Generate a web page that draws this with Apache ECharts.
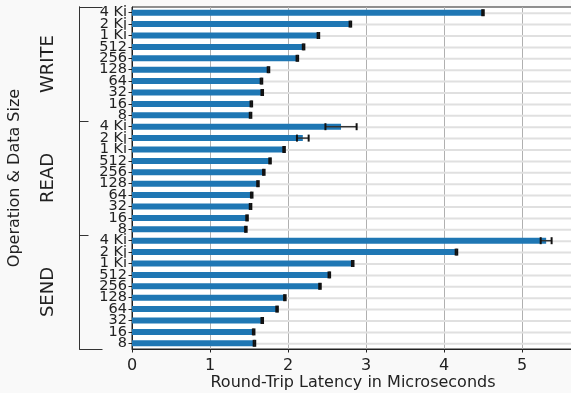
<!DOCTYPE html>
<html>
<head>
<meta charset="utf-8">
<script src="https://cdn.jsdelivr.net/npm/echarts@6/dist/echarts.min.js"></script>
<style>
  html, body { margin: 0; padding: 0; background: #f9f9f9; }
  #chart { width: 571px; height: 393px; }
</style>
</head>
<body>
<div id="chart"></div>
<script>
// Operations (groups, top to bottom) and message sizes within each group
const operations = ['WRITE', 'READ', 'SEND'];
const sizeLabels = ['4 Ki', '2 Ki', '1 Ki', '512', '256', '128', '64', '32', '16', '8'];

// Mean round-trip latency (µs) and error half-width, per size
const writeMean = [4.50, 2.80, 2.39, 2.20, 2.12, 1.75, 1.66, 1.67, 1.53, 1.52];
const writeErr  = [0.01, 0.01, 0.01, 0.01, 0.01, 0.01, 0.01, 0.01, 0.01, 0.01];
const readMean  = [2.68, 2.19, 1.95, 1.77, 1.69, 1.615, 1.535, 1.52, 1.475, 1.46];
const readErr   = [0.20, 0.075, 0.01, 0.01, 0.01, 0.01, 0.01, 0.01, 0.01, 0.01];
const sendMean  = [5.31, 4.16, 2.83, 2.53, 2.41, 1.96, 1.86, 1.67, 1.56, 1.57];
const sendErr   = [0.07, 0.01, 0.01, 0.01, 0.01, 0.01, 0.01, 0.01, 0.01, 0.01];

// X axis tick step and visible extent
const xTickStep = 1;
const xMin = 0;
const xMax = 5.667;

const FONT = 'DejaVu Sans';
const TEXT = '#222';

const groups = [
  { name: operations[0], mean: writeMean, err: writeErr },
  { name: operations[1], mean: readMean, err: readErr },
  { name: operations[2], mean: sendMean, err: sendErr }
];

// Flatten into one category list (unique keys "OP|size")
const categories = [];
const means = [];
const errorData = [];
const rowData = [];
groups.forEach(g => {
  sizeLabels.forEach((s, i) => {
    const idx = categories.length;
    categories.push(g.name + '|' + s);
    means.push(g.mean[i]);
    errorData.push([idx, g.mean[i] - g.err[i], g.mean[i] + g.err[i]]);
    rowData.push([xMin, idx]);
  });
});

const chart = echarts.init(document.getElementById('chart'));

// Light horizontal guide across each row
function renderRowLine(params, api) {
  const p = api.coord([api.value(0), api.value(1)]);
  const cs = params.coordSys;
  return {
    type: 'line',
    shape: { x1: cs.x, y1: p[1] + 0.5, x2: cs.x + cs.width, y2: p[1] + 0.5 },
    style: { stroke: '#e0e0e0', lineWidth: 2 }
  };
}

// Horizontal error bar with end caps
function renderErrorBar(params, api) {
  const i = api.value(0);
  const lo = api.coord([api.value(1), i]);
  const hi = api.coord([api.value(2), i]);
  const capH = 7;
  return {
    type: 'group',
    children: [
      { type: 'line', shape: { x1: lo[0], y1: lo[1], x2: hi[0], y2: hi[1] },
        style: { stroke: '#333', lineWidth: 1.5 } },
      { type: 'line', shape: { x1: lo[0], y1: lo[1] - capH / 2, x2: lo[0], y2: lo[1] + capH / 2 },
        style: { stroke: '#111', lineWidth: 2 } },
      { type: 'line', shape: { x1: hi[0], y1: hi[1] - capH / 2, x2: hi[0], y2: hi[1] + capH / 2 },
        style: { stroke: '#111', lineWidth: 2 } }
    ]
  };
}

chart.setOption({
  animation: false,
  backgroundColor: '#f9f9f9',
  textStyle: { fontFamily: FONT },
  grid: {
    left: 132, top: 7, right: -3, bottom: 44,
    containLabel: false,
    outerBoundsMode: 'none',
    show: true, backgroundColor: '#ffffff',
    borderColor: '#222', borderWidth: 1
  },
  xAxis: {
    type: 'value',
    min: xMin, max: xMax, interval: xTickStep,
    name: 'Round-Trip Latency in Microseconds',
    nameLocation: 'middle',
    nameGap: 26,
    nameMoveOverlap: false,
    nameTextStyle: { fontFamily: FONT, fontSize: 16, color: TEXT },
    axisLine: { show: true, lineStyle: { color: '#222' } },
    axisTick: { show: true, length: 3.5, lineStyle: { color: '#222' } },
    axisLabel: { fontFamily: FONT, fontSize: 16, color: TEXT, margin: 9, showMaxLabel: false },
    splitLine: { show: true, lineStyle: { color: '#b0b0b0', width: 1 } }
  },
  yAxis: [
    {
      type: 'category',
      data: categories,
      inverse: true,
      axisLine: { show: true, lineStyle: { color: '#222' } },
      axisTick: { show: true, alignWithLabel: true, length: 3.5, interval: 0, lineStyle: { color: '#222' } },
      axisLabel: {
        interval: 0, margin: 5, fontFamily: FONT, fontSize: 14.5, color: TEXT,
        formatter: v => v.split('|')[1]
      },
      splitLine: { show: false }
    },
    {
      type: 'category',
      data: operations,
      inverse: true,
      position: 'left',
      offset: 52.5,
      axisLine: { show: true, lineStyle: { color: '#333' } },
      axisTick: { show: true, inside: true, length: 9, interval: 0, lineStyle: { color: '#333' } },
      axisLabel: {
        interval: 0, rotate: 90, margin: 22, fontFamily: FONT, fontSize: 18,
        lineHeight: 18, color: TEXT
      },
      splitLine: { show: false }
    },
    {
      type: 'category',
      data: [''],
      inverse: true,
      position: 'left',
      offset: 52.5,
      name: 'Operation & Data Size',
      nameLocation: 'middle',
      nameRotate: 90,
      nameGap: 57,
      nameMoveOverlap: false,
      nameTextStyle: { fontFamily: FONT, fontSize: 16, color: TEXT },
      axisLine: { show: true, lineStyle: { color: '#333' } },
      axisTick: { show: true, inside: true, length: 23, lineStyle: { color: '#333' } },
      axisLabel: { show: false },
      splitLine: { show: false }
    }
  ],
  series: [
    {
      type: 'custom',
      yAxisIndex: 0,
      renderItem: renderRowLine,
      encode: { x: 0, y: 1 },
      data: rowData,
      z: 1,
      silent: true
    },
    {
      type: 'bar',
      yAxisIndex: 0,
      data: means,
      barWidth: 6,
      itemStyle: { color: '#1f77b4' },
      z: 2
    },
    {
      type: 'custom',
      yAxisIndex: 0,
      renderItem: renderErrorBar,
      encode: { x: [1, 2], y: 0 },
      data: errorData,
      z: 3,
      silent: true
    }
  ]
});
</script>
</body>
</html>
